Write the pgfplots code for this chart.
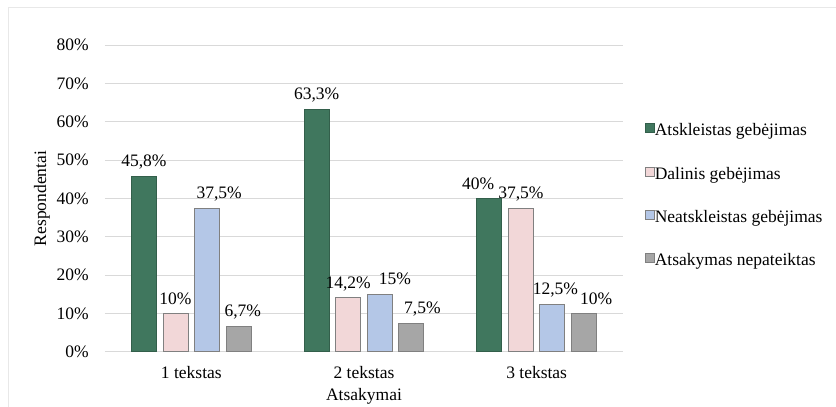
\documentclass[border=0pt]{standalone}
\usepackage{fontspec}
\setmainfont{Liberation Serif}
\usepackage{pgfplots}
\pgfplotsset{compat=1.18}
\definecolor{cgreen}{RGB}{64,119,94}
\definecolor{cpink}{RGB}{242,215,216}
\definecolor{cblue}{RGB}{180,199,231}
\definecolor{cgray}{RGB}{166,166,166}
\definecolor{cedge}{RGB}{128,128,128}
\definecolor{cgrid}{RGB}{217,217,217}
\newcommand{\fs}{\fontsize{17.5}{21}\selectfont}
\begin{document}
\begin{tikzpicture}[x=1pt,y=1pt]
\path[use as bounding box] (0,0) rectangle (836,407);
\draw[cgrid!60, line width=1pt] (8,0) -- (8,399) -- (836,399);
\begin{axis}[
  at={(105pt,55pt)}, anchor=south west,
  scale only axis, width=518pt, height=307pt,
  xmin=-0.5, xmax=2.5, ymin=0, ymax=80,
  ybar, bar width=0.145,
  axis x line*=bottom, axis y line*=left,
  x axis line style={draw=cgrid, line width=1pt, -},
  y axis line style={draw=none},
  major tick length=0pt,
  xtick={0,1,2}, xticklabels={1 tekstas,2 tekstas,3 tekstas},
  ytick={0,10,...,80},
  yticklabel={\pgfmathprintnumber{\tick}\%},
  /pgf/number format/assume math mode=true,
  ymajorgrids, grid style={draw=cgrid, line width=1pt},
  tick label style={font=\fs},
  yticklabel style={anchor=east, inner sep=0pt, xshift=-16pt},
  xticklabel style={anchor=north, inner sep=0pt, yshift=-14pt},
  xlabel={Atsakymai}, ylabel={Respondentai},
  every axis y label/.style={at={(axis description cs:-0.1216,0.5)}, rotate=90, anchor=center, font=\fs},
  every axis x label/.style={at={(axis description cs:0.5,-0.143)}, anchor=center, font=\fs},
  nodes near coords,
  point meta=explicit symbolic,
  nodes near coords style={font=\fs, inner sep=0pt, text depth=0pt, anchor=south, yshift=9pt, color=black},
  legend style={at={(axis description cs:1.0425,0.745)}, anchor=north west, draw=none, fill=none,
    font=\fs, inner sep=0pt, row sep=27pt,
    nodes={inner sep=0pt, text height=12pt, text depth=4pt}},
  legend cell align=left,
  legend image code/.code={\draw[#1, line width=0.6pt] (0pt,-1pt) rectangle (9pt,8pt);},
]
\addplot[fill=cgreen, draw=cgreen!80!black, line width=1pt, bar shift=-0.2745]
  coordinates {(0,45.8) [45,8\%] (1,63.3) [63,3\%] (2,40) [40\%\hspace*{22pt}]};
\addplot[fill=cpink, draw=cedge, line width=1pt, bar shift=-0.0915]
  coordinates {(0,10) [10\%] (1,14.2) [14,2\%] (2,37.5) [37,5\%]};
\addplot[fill=cblue, draw=cedge, line width=1pt, bar shift=0.0915]
  coordinates {(0,37.5) [\hspace*{24pt}37,5\%] (1,15) [\hspace*{30pt}15\%] (2,12.5) [\hspace*{6pt}12,5\%]};
\addplot[fill=cgray, draw=cedge, line width=1pt, bar shift=0.2745]
  coordinates {(0,6.7) [\hspace*{8pt}6,7\%] (1,7.5) [\hspace*{22pt}7,5\%] (2,10) [\hspace*{24pt}10\%]};
\legend{Atskleistas gebėjimas, Dalinis gebėjimas, Neatskleistas gebėjimas, Atsakymas nepateiktas}
\end{axis}
\end{tikzpicture}
\end{document}
